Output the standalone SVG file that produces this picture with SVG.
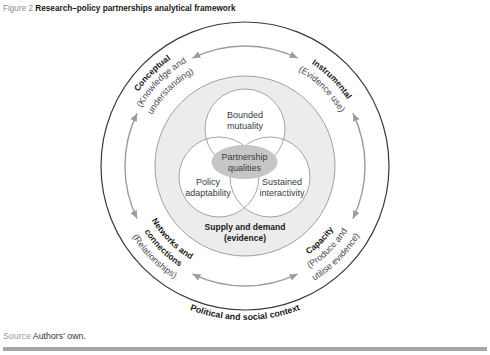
<svg xmlns="http://www.w3.org/2000/svg" xmlns:xlink="http://www.w3.org/1999/xlink" width="490" height="355" viewBox="0 0 490 355">
<style>
text{font-family:"Liberation Sans",Arial,sans-serif}
.b{font-weight:bold;font-size:8.5px;fill:#1a1a1a}
.r{font-size:9px;fill:#4a4a5a}
.v{font-size:9px;fill:#3a3a48;text-anchor:middle}
.venn{fill:none;stroke:#9a9a9a;stroke-width:0.9}
.arr{fill:none;stroke:#9c9c9c;stroke-width:1.4;marker-start:url(#ah);marker-end:url(#ah)}
</style>
<defs>
<marker id="ah" markerUnits="userSpaceOnUse" markerWidth="9" markerHeight="8" refX="8" refY="3.5" orient="auto-start-reverse">
<path d="M0,0 L8,3.5 L0,7 z" fill="#9c9c9c"/>
</marker>
<path id="c1" d="M115,166 A130,130 0 0 1 245,36"/>
<path id="c2" d="M126,166 A119,119 0 0 1 245,47"/>
<path id="c3" d="M139,166 A106,106 0 0 1 245,60"/>
<path id="i1" d="M245,44 A122,122 0 0 1 367,166"/>
<path id="i2" d="M245,57 A109,109 0 0 1 354,166"/>
<path id="n1" d="M137,166 A108,108 0 0 0 245,274"/>
<path id="n2" d="M125,166 A120,120 0 0 0 245,286"/>
<path id="n3" d="M112,166 A133,133 0 0 0 245,299"/>
<path id="p1" d="M245,275 A109,109 0 0 0 354,166"/>
<path id="p2" d="M245,287 A121,121 0 0 0 366,166"/>
<path id="p3" d="M245,300 A134,134 0 0 0 379,166"/>
<path id="pol" d="M91,166 A154,154 0 0 0 399,166"/>
</defs>
<rect width="490" height="355" fill="#fff"/>
<text x="3" y="11" font-size="8.2"><tspan fill="#8a8a8a">Figure 2 </tspan><tspan font-weight="bold" fill="#1a1a1a">Research–policy partnerships analytical framework</tspan></text>

<g id="context">
<circle cx="245" cy="166" r="144" fill="none" stroke="#3a3a3a" stroke-width="1.2"/>
<text class="b" style="font-size:8.8px"><textPath xlink:href="#pol" href="#pol" startOffset="50%" text-anchor="middle">Political and social context</textPath></text>
</g>

<g id="supply">
<circle cx="245" cy="166" r="90" fill="#ececec" stroke="#a0a0a0" stroke-width="1"/>
<circle cx="245" cy="129" r="40" fill="#fff"/>
<circle cx="219" cy="177" r="40" fill="#fff"/>
<circle cx="270" cy="177" r="40" fill="#fff"/>
<text class="b" x="245" y="230" text-anchor="middle">Supply and demand</text>
<text class="b" x="245" y="241" text-anchor="middle">(evidence)</text>
</g>

<g id="bounded">
<circle class="venn" cx="245" cy="129" r="40"/>
<text class="v" x="245" y="118">Bounded</text>
<text class="v" x="245" y="129">mutuality</text>
</g>
<g id="policy">
<circle class="venn" cx="219" cy="177" r="40"/>
<text class="v" x="208" y="185">Policy</text>
<text class="v" x="208" y="196">adaptability</text>
</g>
<g id="sustained">
<circle class="venn" cx="270" cy="177" r="40"/>
<text class="v" x="282" y="185">Sustained</text>
<text class="v" x="282" y="196">interactivity</text>
</g>
<g id="qualities">
<ellipse cx="244.5" cy="162" rx="33" ry="17" fill="#c6c6c6"/>
<text class="v" x="244.5" y="160">Partnership</text>
<text class="v" x="244.5" y="171">qualities</text>
</g>

<g id="connectors">
<path class="arr" d="M192.4,58.1 A120,120 0 0 1 297.6,58.1"/>
<path class="arr" d="M352.9,113.4 A120,120 0 0 1 352.9,218.6"/>
<path class="arr" d="M297.6,273.9 A120,120 0 0 1 192.4,273.9"/>
<path class="arr" d="M137.1,218.6 A120,120 0 0 1 137.1,113.4"/>
</g>

<g id="conceptual">
<text class="b"><textPath xlink:href="#c1" href="#c1" startOffset="50%" text-anchor="middle">Conceptual</textPath></text>
<text class="r"><textPath xlink:href="#c2" href="#c2" startOffset="50%" text-anchor="middle">(Knowledge and</textPath></text>
<text class="r"><textPath xlink:href="#c3" href="#c3" startOffset="50%" text-anchor="middle">understanding)</textPath></text>
</g>
<g id="instrumental">
<text class="b"><textPath xlink:href="#i1" href="#i1" startOffset="50%" text-anchor="middle">Instrumental</textPath></text>
<text class="r"><textPath xlink:href="#i2" href="#i2" startOffset="50%" text-anchor="middle">(Evidence use)</textPath></text>
</g>
<g id="networks">
<text class="b"><textPath xlink:href="#n1" href="#n1" startOffset="50%" text-anchor="middle">Networks and</textPath></text>
<text class="b"><textPath xlink:href="#n2" href="#n2" startOffset="50%" text-anchor="middle">connections</textPath></text>
<text class="r"><textPath xlink:href="#n3" href="#n3" startOffset="50%" text-anchor="middle">(Relationships)</textPath></text>
</g>
<g id="capacity">
<text class="b"><textPath xlink:href="#p1" href="#p1" startOffset="50%" text-anchor="middle">Capacity</textPath></text>
<text class="r"><textPath xlink:href="#p2" href="#p2" startOffset="50%" text-anchor="middle">(Produce and</textPath></text>
<text class="r"><textPath xlink:href="#p3" href="#p3" startOffset="50%" text-anchor="middle">utilise evidence)</textPath></text>
</g>

<text x="3" y="339" font-size="8.8"><tspan fill="#9a9a9a">Source </tspan><tspan fill="#333">Authors' own.</tspan></text>
<rect x="3" y="347" width="484" height="4" fill="#a6a6a6"/>
</svg>
